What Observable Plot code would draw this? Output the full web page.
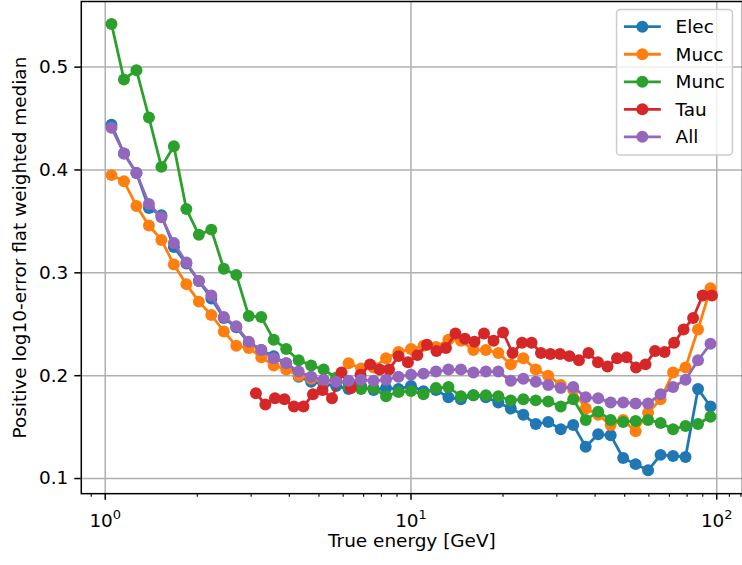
<!DOCTYPE html>
<html>
<head>
<meta charset="utf-8">
<script src="https://cdn.jsdelivr.net/npm/d3@7"></script>
<script src="https://cdn.jsdelivr.net/npm/@observablehq/plot@0.6"></script>
<style>
  html, body { margin: 0; padding: 0; background: white; overflow: hidden; }
  #chart { width: 742px; height: 565px; overflow: hidden; position: relative; }
</style>
</head>
<body>
<div id="chart"></div>
<script>
// ---- data ----
const energy = [1.0481, 1.1514, 1.2649, 1.3895, 1.5264, 1.6768, 1.8421, 2.0236, 2.2230, 2.4421,
  2.6827, 2.9471, 3.2375, 3.5566, 3.9070, 4.2920, 4.7150, 5.1795, 5.6899, 6.2506,
  6.8665, 7.5431, 8.2864, 9.1030, 10.000, 10.985, 12.068, 13.257, 14.563, 15.998,
  17.575, 19.307, 21.210, 23.300, 25.595, 28.118, 30.888, 33.932, 37.276, 40.949,
  44.984, 49.417, 54.287, 59.636, 65.513, 71.969, 79.060, 86.851, 95.410];

const energyTau = [3.1096, 3.3406, 3.5887, 3.8552, 4.1416, 4.4492, 4.7797, 5.1347, 5.5161, 5.9257,
  6.3659, 6.8387, 7.3466, 7.8922, 8.4784, 9.1081, 9.7706, 10.496, 11.276, 12.113,
  13.013, 13.979, 15.017, 16.133, 17.331, 18.618, 20.001, 21.487, 23.083, 24.797,
  26.610, 28.586, 30.709, 32.979, 35.429, 38.060, 40.887, 43.924, 47.186, 50.691,
  54.455, 58.500, 62.843, 67.510, 72.524, 77.910, 83.697, 89.914, 96.485];

const elec = [0.444, 0.416, 0.397, 0.363, 0.356, 0.325, 0.309, 0.292, 0.275, 0.256,
  0.247, 0.232, 0.225, 0.219, 0.212, 0.199, 0.194, 0.192, 0.190, 0.187,
  0.190, 0.186, 0.188, 0.187, 0.190, 0.185, 0.186, 0.179, 0.177, 0.181,
  0.179, 0.174, 0.168, 0.162, 0.153, 0.155, 0.148, 0.152, 0.131, 0.143,
  0.142, 0.120, 0.114, 0.108, 0.123, 0.122, 0.121, 0.187, 0.170];

const mucc = [0.395, 0.389, 0.365, 0.346, 0.332, 0.308, 0.289, 0.272, 0.259, 0.243,
  0.229, 0.227, 0.218, 0.210, 0.206, 0.200, 0.197, 0.195, 0.196, 0.212,
  0.207, 0.208, 0.217, 0.223, 0.226, 0.229, 0.228, 0.235, 0.234, 0.225,
  0.225, 0.222, 0.211, 0.217, 0.206, 0.200, 0.191, 0.186, 0.168, 0.162,
  0.152, 0.157, 0.146, 0.164, 0.177, 0.203, 0.208, 0.245, 0.285];

const munc = [0.542, 0.488, 0.497, 0.451, 0.403, 0.423, 0.362, 0.337, 0.342, 0.304,
  0.298, 0.258, 0.257, 0.235, 0.226, 0.215, 0.210, 0.206, 0.198, 0.190,
  0.187, 0.188, 0.180, 0.184, 0.185, 0.182, 0.188, 0.189, 0.180, 0.181,
  0.181, 0.180, 0.176, 0.177, 0.176, 0.175, 0.170, 0.177, 0.157, 0.165,
  0.157, 0.155, 0.156, 0.157, 0.154, 0.148, 0.151, 0.153, 0.160];

const tau = [0.183, 0.172, 0.178, 0.177, 0.170, 0.170, 0.182, 0.186, 0.178, 0.203,
  0.188, 0.201, 0.211, 0.206, 0.206, 0.219, 0.213, 0.220, 0.230, 0.224,
  0.227, 0.241, 0.236, 0.233, 0.241, 0.234, 0.242, 0.222, 0.232, 0.232,
  0.222, 0.221, 0.221, 0.219, 0.215, 0.222, 0.213, 0.209, 0.217, 0.218,
  0.208, 0.211, 0.224, 0.223, 0.232, 0.245, 0.256, 0.278, 0.278];

const allFlavours = [0.441, 0.416, 0.397, 0.367, 0.354, 0.329, 0.310, 0.292, 0.278, 0.257,
  0.248, 0.233, 0.225, 0.217, 0.212, 0.204, 0.199, 0.196, 0.194, 0.195,
  0.196, 0.195, 0.196, 0.199, 0.201, 0.202, 0.204, 0.206, 0.206, 0.203,
  0.204, 0.204, 0.195, 0.197, 0.194, 0.191, 0.188, 0.189, 0.179, 0.178,
  0.174, 0.174, 0.173, 0.173, 0.182, 0.189, 0.196, 0.215, 0.231];

const seriesNames = ["Elec", "Mucc", "Munc", "Tau", "All"];
const seriesColors = ["#1f77b4", "#ff7f0e", "#2ca02c", "#d62728", "#9467bd"];
const seriesValues = [elec, mucc, munc, tau, allFlavours];
const seriesEnergy = [energy, energy, energy, energyTau, energy];

const xMajorTicks = [1, 10, 100];
const xMinorTicks = [0.9, 2, 3, 4, 5, 6, 7, 8, 9, 20, 30, 40, 50, 60, 70, 80, 90, 110, 120];
const yTicks = [0.1, 0.2, 0.3, 0.4, 0.5];

const xLabel = "True energy [GeV]";
const yLabel = "Positive log10-error flat weighted median";

// ---- chart ----
const FS = 18.5;
const seriesMarks = seriesNames.flatMap((name, i) => {
  const rows = seriesValues[i].map((v, j) => ({energy: seriesEnergy[i][j], value: v, series: name}));
  return [
    Plot.line(rows, {x: "energy", y: "value", stroke: seriesColors[i], strokeWidth: 2.78}),
    Plot.dot(rows, {x: "energy", y: "value", fill: seriesColors[i], r: 6, stroke: "none"})
  ];
});

const chart = Plot.plot({
  width: 744,
  height: 565,
  marginLeft: 81,
  marginRight: 0,
  marginTop: 1,
  marginBottom: 70.5,
  style: {fontFamily: "'DejaVu Sans', sans-serif", fontSize: FS + "px", background: "white", color: "black", overflow: "visible"},
  x: {type: "log", domain: [0.8349, 121.4], axis: null},
  y: {domain: [0.0853, 0.5638], axis: null},
  marks: [
    Plot.gridX(xMajorTicks, {stroke: "#b0b0b0", strokeOpacity: 1, strokeWidth: 1.5}),
    Plot.gridY(yTicks, {stroke: "#b0b0b0", strokeOpacity: 1, strokeWidth: 1.5}),
    ...seriesMarks,
    Plot.frame({stroke: "black", strokeWidth: 1.5}),
    Plot.axisX(xMinorTicks, {tickSize: 3.7, strokeWidth: 1.1, fill: "none", label: null}),
    Plot.axisX(xMajorTicks, {tickSize: 6.5, tickPadding: 13.4, strokeWidth: 1.5, fontSize: FS, fill: "black",
      tickFormat: d => String(Math.round(Math.log10(d))), label: null}),
    Plot.axisY(yTicks, {tickSize: 6.5, tickPadding: 6.5, strokeWidth: 1.5, fontSize: FS, fill: "black",
      tickFormat: d3.format(".1f"), label: null}),
    Plot.text([xLabel], {frameAnchor: "bottom", dy: 53.5, fontSize: FS, fill: "black", textAnchor: "middle"}),
    Plot.text([yLabel], {frameAnchor: "left", dx: -61, rotate: -90, fontSize: FS, fill: "black", textAnchor: "middle"})
  ]
});

document.getElementById("chart").appendChild(chart);

// superscript exponents on the x tick labels (10^0, 10^1, 10^2)
const svg = d3.select(chart);
svg.selectAll('g[aria-label="x-axis tick label"] text').each(function () {
  const exp = this.textContent;
  const t = d3.select(this);
  t.text(null);
  t.append("tspan").text("10");
  t.append("tspan").attr("dy", -7.7).attr("font-size", 13).text(exp);
});

// legend (upper right, matplotlib style)
const lg = svg.append("g").attr("class", "legend").attr("text-anchor", "start");
const boxX = 618.2, boxY = 9.5, boxW = 116.2, boxH = 146;
lg.append("rect").attr("x", boxX).attr("y", boxY).attr("width", boxW).attr("height", boxH)
  .attr("rx", 3.7).attr("fill", "white").attr("fill-opacity", 0.8)
  .attr("stroke", "#cccccc").attr("stroke-width", 1.5);
seriesNames.forEach((name, i) => {
  const cy = 26.8 + i * 27.6;
  lg.append("line").attr("x1", 625.6).attr("x2", 662.6).attr("y1", cy).attr("y2", cy)
    .attr("stroke", seriesColors[i]).attr("stroke-width", 2.78);
  lg.append("circle").attr("cx", 644.1).attr("cy", cy).attr("r", 6).attr("fill", seriesColors[i]);
  lg.append("text").attr("x", 677.4).attr("y", cy).attr("dy", "0.35em")
    .attr("text-anchor", "start")
    .attr("font-size", FS).attr("fill", "black").text(name);
});
</script>
</body>
</html>
